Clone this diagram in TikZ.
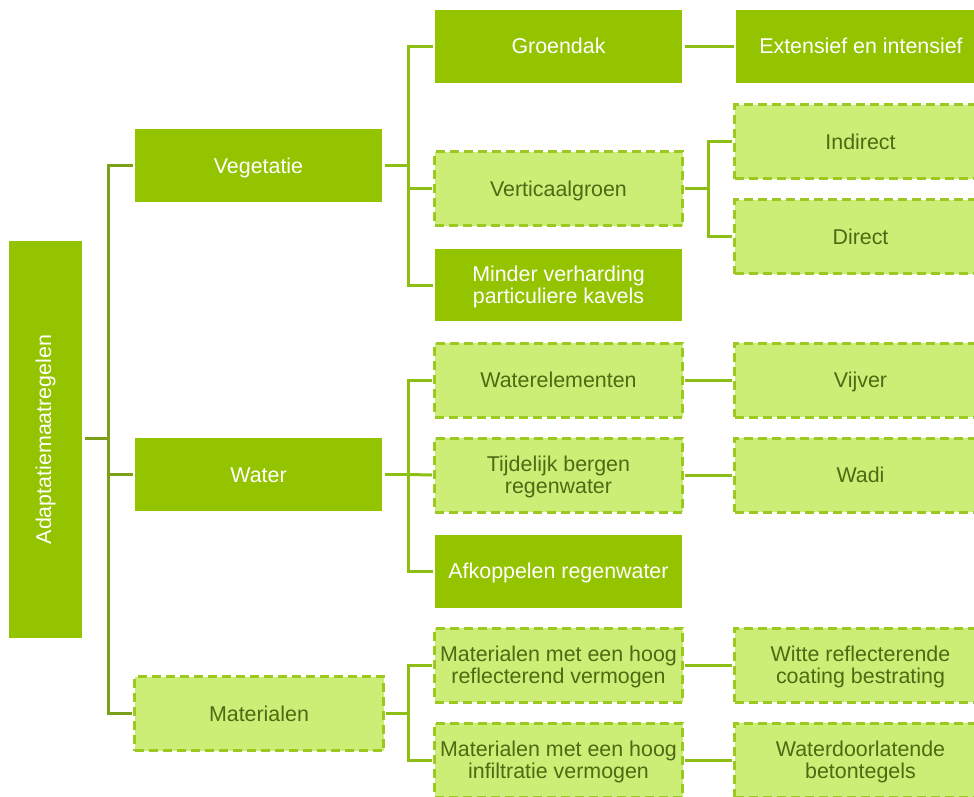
\documentclass[tikz,border=0pt]{standalone}
\usepackage{fontspec}
\setmainfont{Liberation Sans}
\definecolor{gfill}{HTML}{94C400}
\definecolor{lfill}{HTML}{CCEE77}
\definecolor{ldash}{HTML}{9CC91F}
\definecolor{ltext}{HTML}{4E6A12}
\definecolor{trunkA}{HTML}{7CA118}
\definecolor{trunkB}{HTML}{8CBE14}
% centred label lines on a fixed strut; the ink sits a little below the box middle
\newcommand\boxtext[1]{\raisebox{-3.2pt}[\height][\depth]{\begin{tabular}{@{}c@{}}#1\end{tabular}}}
\tikzset{
  lbl/.style={font=\fontsize{21.4}{21.8}\selectfont, inner sep=1pt, outer sep=2.5pt},
  solidbox/.style={lbl, rectangle, fill=gfill, text=white, minimum width=247, minimum height=73},
  lightbox/.style={lbl, rectangle, fill=lfill, draw=ldash, line width=3pt,
    dash pattern=on 9pt off 5pt, text=ltext, minimum width=248, minimum height=74},
  linkA/.style={draw=trunkA, line width=3pt},
  linkB/.style={draw=trunkB, line width=3pt},
}
\begin{document}
\begin{tikzpicture}[x=1pt, y=-1pt]
\useasboundingbox (0,0) rectangle (974,796);
\clip (0,0) rectangle (974,796);

% root
\node[solidbox, minimum width=73, minimum height=397] (root) at (45.5,439.5)
  {\rotatebox{90}{Adaptatiemaatregelen}};

% first level
\node[solidbox] (veg) at (258.5,165.5) {\boxtext{Vegetatie}};
\node[solidbox] (wat) at (258.5,474.5) {\boxtext{Water}};
\node[lightbox, minimum width=249] (mat) at (259,713.5) {\boxtext{Materialen}};

% vegetation branch
\node[solidbox] (gd)  at (558.5,46)  {\boxtext{Groendak}};
\node[lightbox] (vg)  at (558.5,188.5) {\boxtext{Verticaalgroen}};
\node[solidbox, minimum height=72] (mv) at (558.5,285) {\boxtext{Minder verharding\\particuliere kavels}};
\node[solidbox, minimum width=250] (ext) at (861,46) {\boxtext{Extensief en intensief}};
\node[lightbox, minimum width=252] (ind) at (860.5,141.5) {\boxtext{Indirect}};
\node[lightbox, minimum width=252] (dir) at (860.5,236.5) {\boxtext{Direct}};

% water branch
\node[lightbox] (we)  at (558.5,380) {\boxtext{Waterelementen}};
\node[lightbox] (tb)  at (558.5,475) {\boxtext{Tijdelijk bergen\\regenwater}};
\node[solidbox] (ak)  at (558.5,571) {\boxtext{Afkoppelen regenwater}};
\node[lightbox, minimum width=252] (vij) at (860.5,380) {\boxtext{Vijver}};
\node[lightbox, minimum width=252] (wad) at (860.5,475) {\boxtext{Wadi}};

% materials branch
\node[lightbox] (mr)  at (558.5,665) {\boxtext{Materialen met een hoog\\reflecterend vermogen}};
\node[lightbox] (mi)  at (558.5,760) {\boxtext{Materialen met een hoog\\infiltratie vermogen}};
\node[lightbox, minimum width=252] (wit) at (860.5,665) {\boxtext{Witte reflecterende\\coating bestrating}};
\node[lightbox, minimum width=252] (wdl) at (860.5,760) {\boxtext{Waterdoorlatende\\betontegels}};

% main trunk
\coordinate (t0) at (108,438);
\draw[linkA] (root.east |- t0) -- (t0);
\draw[linkA] (veg.west) -| (t0) |- (mat.west);
\draw[linkA] (t0) |- (wat.west);

% level-two trunks
\coordinate (tv) at (408,165.5);
\draw[linkB] (veg.east) -- (tv);
\draw[linkB] (gd.west) -| (tv) |- (mv.west);
\draw[linkB] (tv) |- (vg.west);

\coordinate (tw) at (408,474.5);
\draw[linkB] (wat.east) -- (tw);
\draw[linkB] (we.west) -| (tw) |- (ak.west);
\draw[linkB] (tw) -- (tb.west);

\coordinate (tm) at (408,713.5);
\draw[linkB] (mat.east) -- (tm);
\draw[linkB] (mr.west) -| (tm) |- (mi.west);

% level-three links
\coordinate (tg) at (708,188.5);
\draw[linkB] (vg.east) -- (tg);
\draw[linkB] (ind.west) -| (tg) |- (dir.west);
\draw[linkB] (gd.east) -- (ext.west);
\draw[linkB] (we.east) -- (vij.west);
\draw[linkB] (tb.east) -- (wad.west);
\draw[linkB] (mr.east) -- (wit.west);
\draw[linkB] (mi.east) -- (wdl.west);
\end{tikzpicture}
\end{document}
